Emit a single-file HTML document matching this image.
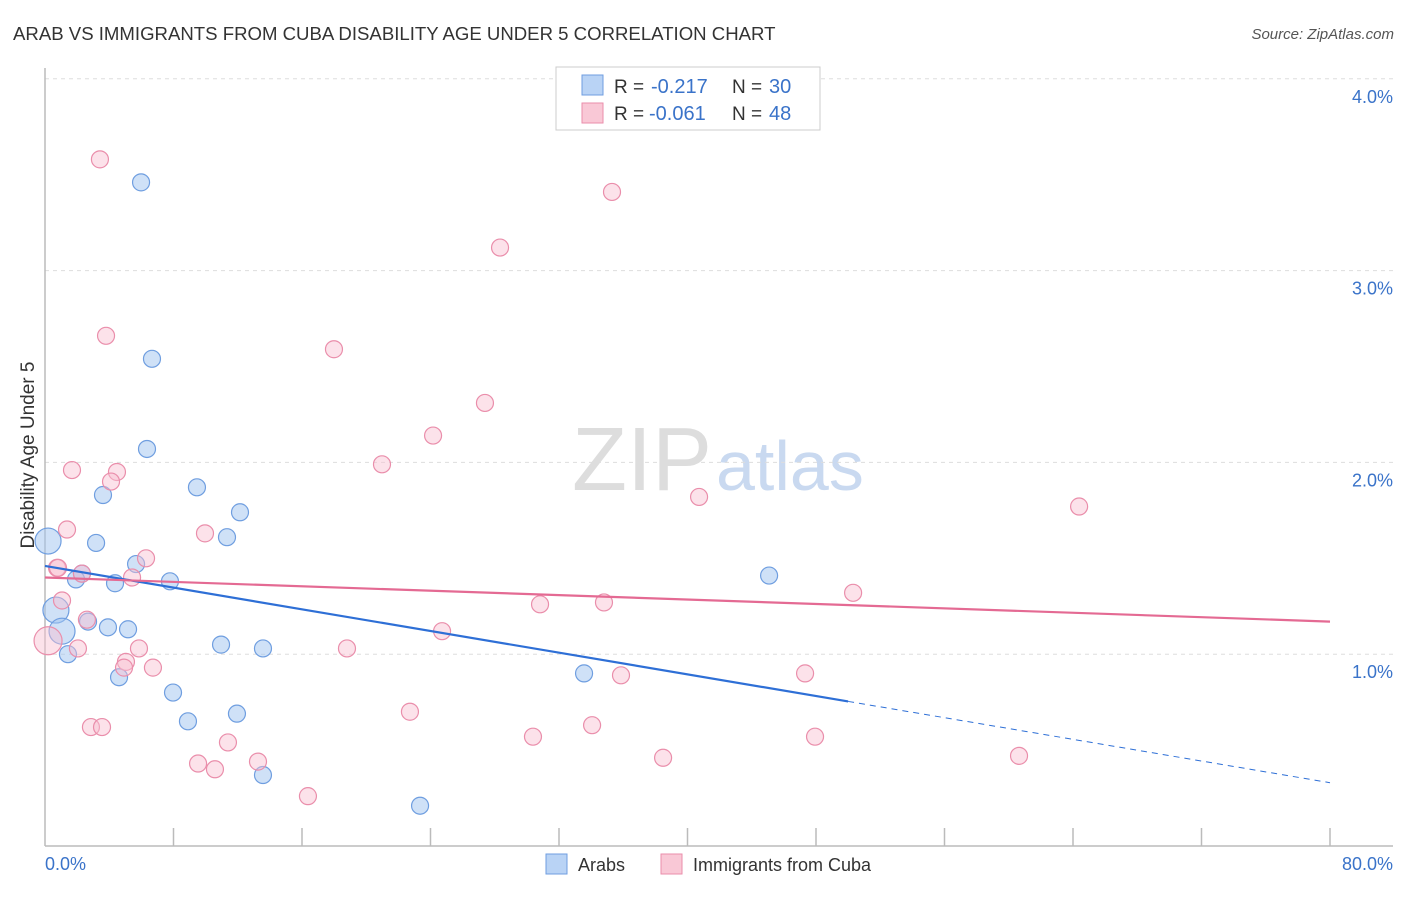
<!DOCTYPE html>
<html><head><meta charset="utf-8"><style>
body{margin:0;background:#fff;font-family:"Liberation Sans",sans-serif}
svg text{font-family:"Liberation Sans",sans-serif}
</style></head><body>
<svg id="chart" width="1406" height="892">
<text x="13" y="40" font-size="18.6" fill="#333">ARAB VS IMMIGRANTS FROM CUBA DISABILITY AGE UNDER 5 CORRELATION CHART</text>
<text x="1394" y="39" font-size="15" fill="#555" text-anchor="end" font-style="italic">Source: ZipAtlas.com</text>
<text x="712" y="490" font-size="90" fill="#ddd" text-anchor="end" font-family="Liberation Serif">ZIP</text>
<text x="716" y="490" font-size="70" fill="#c9d9f0">atlas</text>
<g id="grid"></g>
<line x1="45" y1="68" x2="45" y2="846" stroke="#bbb" stroke-width="1.5"/>
<line x1="45" y1="846" x2="1393" y2="846" stroke="#bbb" stroke-width="1.5"/>
<g id="xticks"></g>
<text transform="translate(34,455) rotate(-90)" font-size="19" fill="#333" text-anchor="middle">Disability Age Under 5</text>
<text x="45" y="870" font-size="18" fill="#3a73c9">0.0%</text>
<text x="1393" y="870" font-size="18" fill="#3a73c9" text-anchor="end">80.0%</text>
<g id="pts"></g>
<g id="lines"></g>
<g>
<rect x="556" y="67" width="264" height="63" fill="#fff" stroke="#ccc"/>
<rect x="582" y="75" width="21" height="20" fill="#b9d3f5" stroke="#6f9ee0"/>
<rect x="582" y="103" width="21" height="20" fill="#f9c8d6" stroke="#ea8eab"/>
<text x="614" y="93" font-size="19" fill="#333">R =</text>
<text x="651" y="93" font-size="20" fill="#3a73c9">-0.217</text>
<text x="732" y="93" font-size="19" fill="#333">N =</text>
<text x="769" y="93" font-size="20" fill="#3a73c9">30</text>
<text x="614" y="120" font-size="19" fill="#333">R =</text>
<text x="649" y="120" font-size="20" fill="#3a73c9">-0.061</text>
<text x="732" y="120" font-size="19" fill="#333">N =</text>
<text x="769" y="120" font-size="20" fill="#3a73c9">48</text>
</g>
<g>
<rect x="546" y="854" width="21" height="20" fill="#b9d3f5" stroke="#6f9ee0"/>
<text x="578" y="871" font-size="18" fill="#333">Arabs</text>
<rect x="661" y="854" width="21" height="20" fill="#f9c8d6" stroke="#ea8eab"/>
<text x="693" y="871" font-size="18" fill="#333">Immigrants from Cuba</text>
</g>
</svg>
<script>
const yTicks=[1,2,3,4];
const blueX=[5.98,6.66,6.35,3.61,9.46,12.14,11.33,3.18,0.19,5.67,2.30,1.93,4.36,7.78,0.68,2.68,3.92,5.17,1.06,1.43,10.96,13.57,4.61,7.97,8.90,11.95,13.57,23.35,33.56,45.08];
const blueY=[3.46,2.54,2.07,1.83,1.87,1.74,1.61,1.58,1.59,1.47,1.42,1.39,1.37,1.38,1.23,1.17,1.14,1.13,1.12,1.00,1.05,1.03,0.88,0.80,0.65,0.69,0.37,0.21,0.90,1.41];
const blueBig=[0,0,0,0,0,0,0,0,1,0,0,0,0,0,1,0,0,0,1,0,0,0,0,0,0,0,0,0,0,0];
const pinkX=[3.42,35.30,28.33,3.80,17.99,27.39,24.16,20.98,1.68,4.48,4.11,40.72,64.38,1.37,9.96,6.29,0.75,2.30,5.42,1.06,2.61,0.19,2.05,5.85,5.04,4.92,6.72,18.80,24.72,30.82,34.80,50.31,22.72,2.86,3.55,9.53,10.58,11.39,13.26,16.37,30.38,34.06,35.86,38.48,47.32,47.94,60.64,0.81];
const pinkY=[3.58,3.41,3.12,2.66,2.59,2.31,2.14,1.99,1.96,1.95,1.90,1.82,1.77,1.65,1.63,1.50,1.45,1.42,1.40,1.28,1.18,1.07,1.03,1.03,0.96,0.93,0.93,1.03,1.12,1.26,1.27,1.32,0.70,0.62,0.62,0.43,0.40,0.54,0.44,0.26,0.57,0.63,0.89,0.46,0.90,0.57,0.47,1.45];
const blueTrend=[1.46,0.33];
const pinkTrend=[1.40,1.17];
const xs=v=>45+v/80*1285, ys=v=>846-v*191.8;
const NS="http://www.w3.org/2000/svg";
function mk(t,a,p){const e=document.createElementNS(NS,t);for(const k in a)e.setAttribute(k,a[k]);document.getElementById(p).appendChild(e);return e;}
yTicks.forEach(t=>{
 const l=mk('line',{x1:45,x2:1393,y1:ys(t),y2:ys(t),stroke:'#ddd','stroke-dasharray':'4,4'},'grid');
 
 
 const tx=mk('text',{x:1393,y:ys(t)+24,'font-size':18,fill:'#3a73c9','text-anchor':'end'},'grid');
 tx.textContent=t.toFixed(1)+'%';
 
 
});
for(let i=1;i<=10;i++){
 const l=mk('line',{x1:xs(i*8),x2:xs(i*8),y1:828,y2:846,stroke:'#bbb','stroke-width':1.5},'xticks');
 
 
}
blueX.forEach((x,i)=>{
 const c=mk('circle',{cx:xs(x),cy:ys(blueY[i]),r:blueBig[i]?13:8.5,fill:'rgba(160,196,240,0.5)',stroke:'#6f9ee0','stroke-width':1.2},'pts');
 
 
});
pinkX.forEach((x,i)=>{
 const c=mk('circle',{cx:xs(x),cy:ys(pinkY[i]),r:i==21?14:8.5,fill:'rgba(248,190,208,0.45)',stroke:'#ea8eab','stroke-width':1.2},'pts');
 
 
});
const by=x=>blueTrend[0]+(blueTrend[1]-blueTrend[0])*x/80;
let l=mk('line',{x1:xs(0),y1:ys(by(0)),x2:xs(50),y2:ys(by(50)),stroke:'#2e6fd6','stroke-width':2.2},'lines');


l=mk('line',{x1:xs(50),y1:ys(by(50)),x2:xs(80),y2:ys(by(80)),stroke:'#2e6fd6','stroke-width':1,'stroke-dasharray':'6,5'},'lines');


l=mk('line',{x1:xs(0),y1:ys(pinkTrend[0]),x2:xs(80),y2:ys(pinkTrend[1]),stroke:'#e46a93','stroke-width':2.2},'lines');


</script>
</body></html>
